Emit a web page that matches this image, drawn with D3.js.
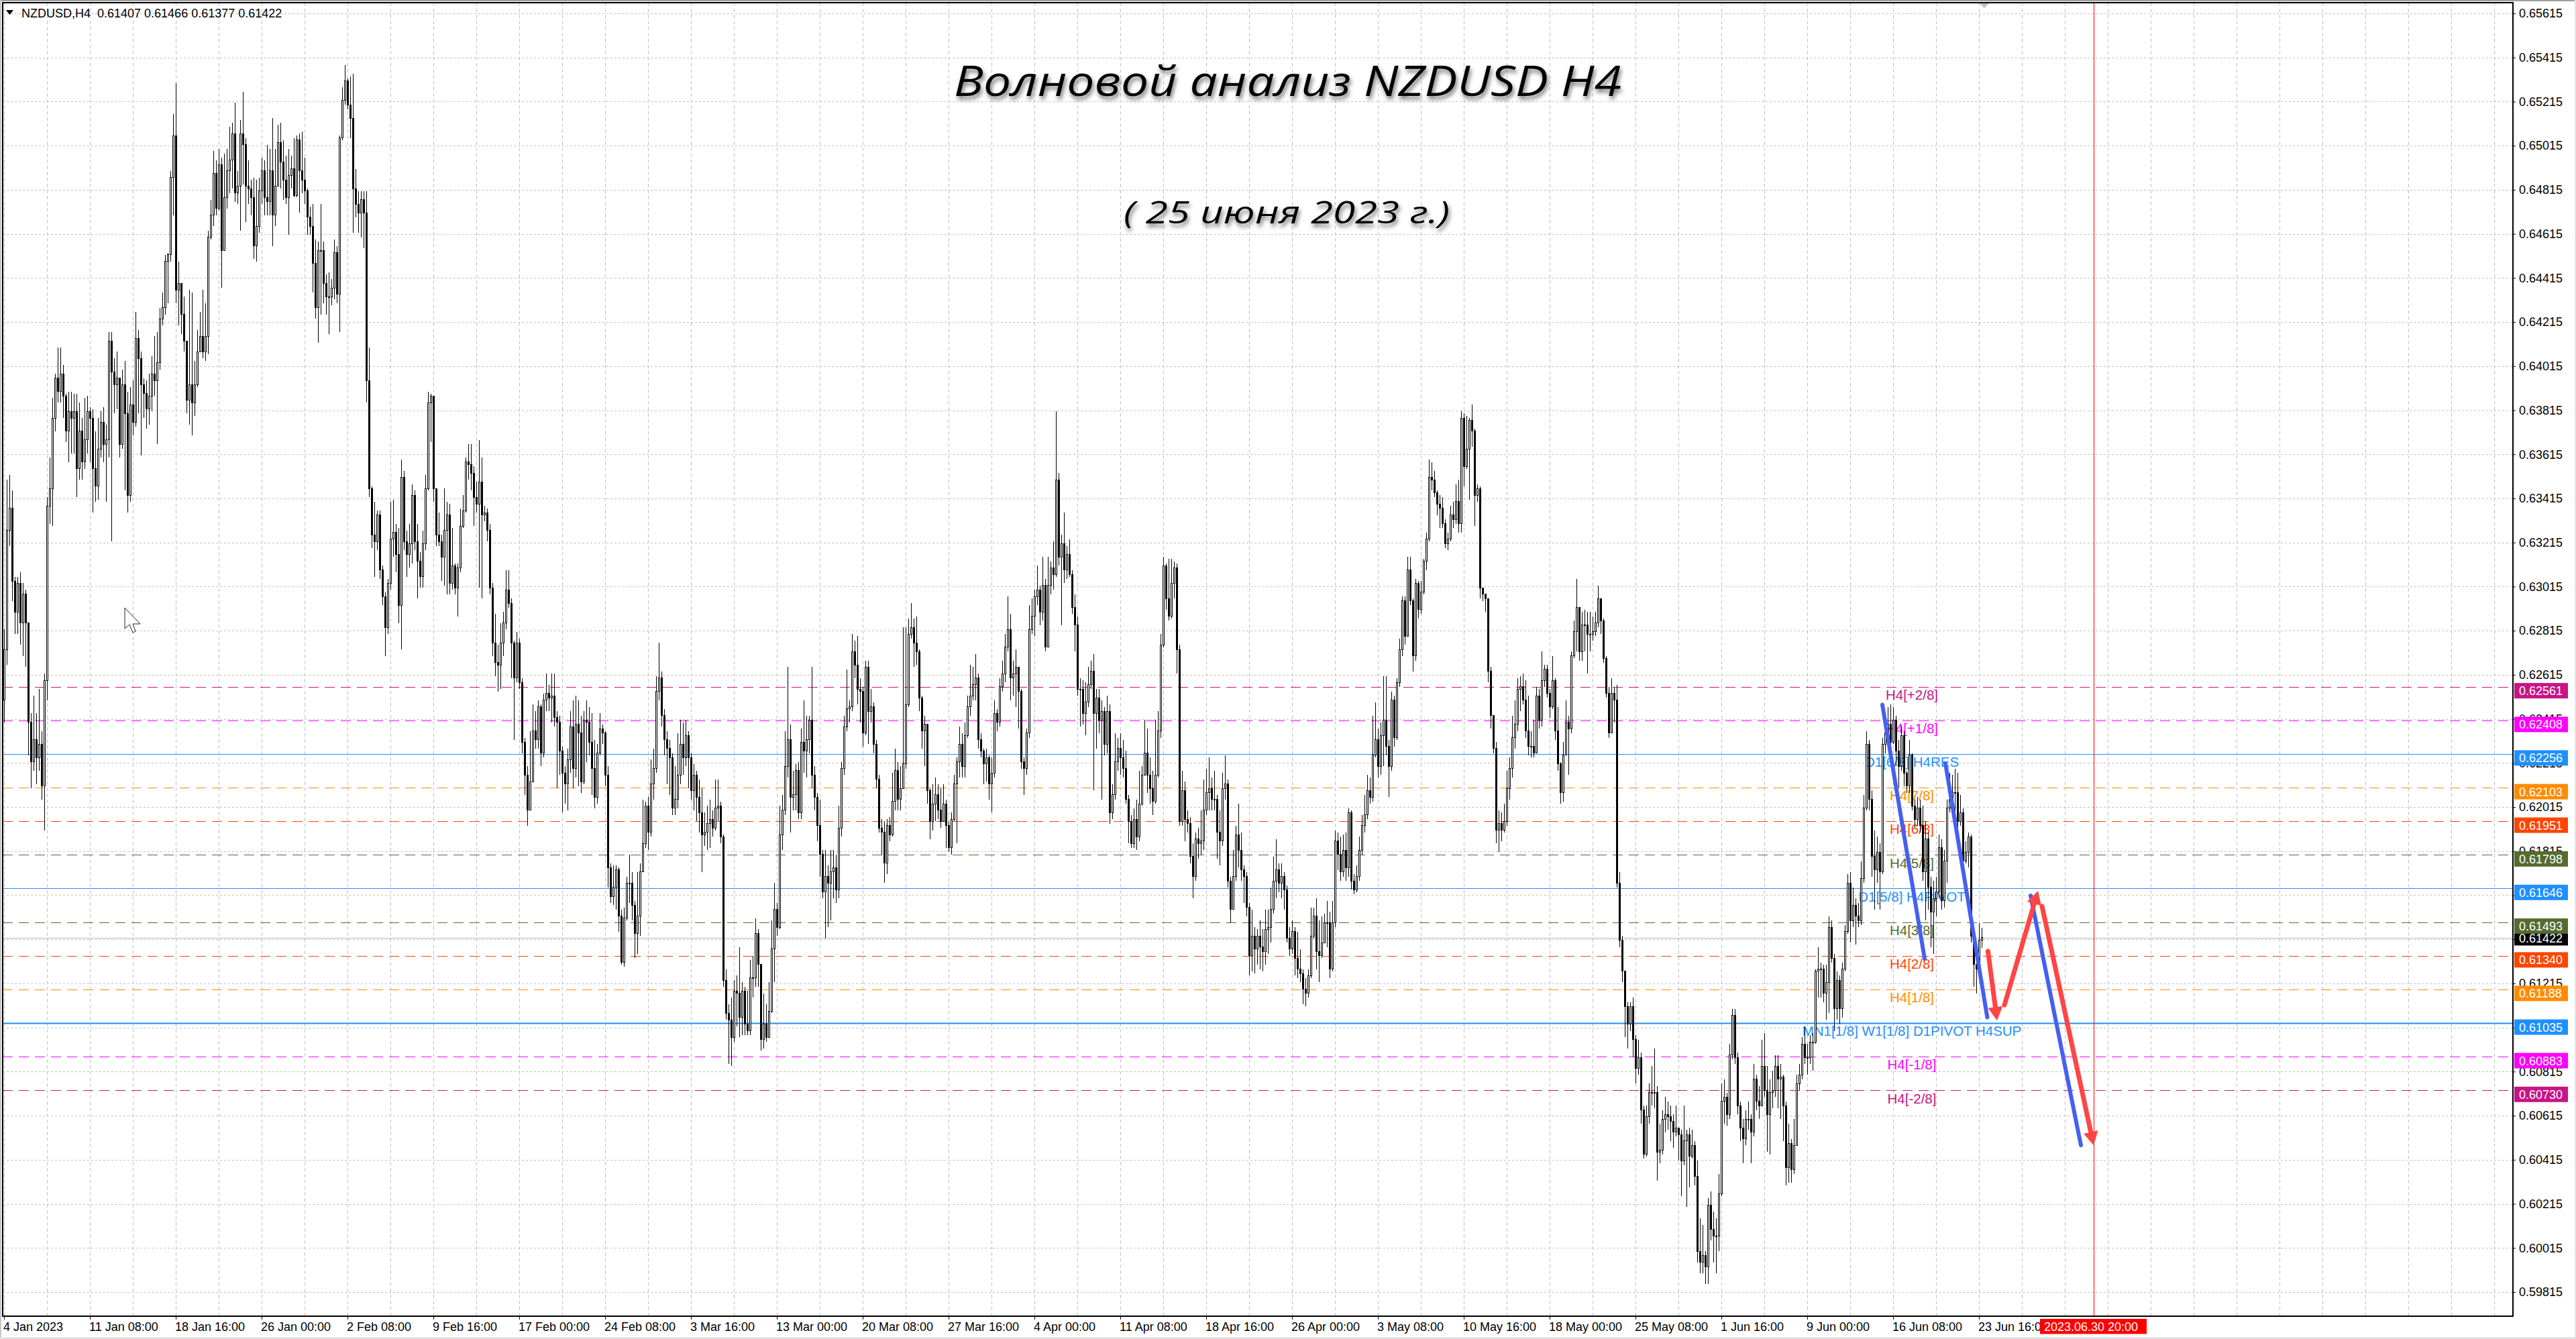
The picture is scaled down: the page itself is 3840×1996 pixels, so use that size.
<!DOCTYPE html>
<html lang="ru">
<head>
<meta charset="UTF-8">
<title>NZDUSD H4</title>
<script src="https://d3js.org/d3.v7.min.js"></script>
<style>
    html, body { margin: 0; padding: 0; background: #fff; }
    svg { display: block; font-family: "Liberation Sans", Arial, sans-serif; }
</style>
</head>
<body>
<div id="chart"></div>
<script>
// H4 bars, in pips (0.0001). Open of a bar = close of the bar before it.
const firstOpen = 6250;
const closePips = [
6273,6327,6337,6304,6290,6303,6285,6298,6285,6240,
6222,6232,6224,6230,6211,6259,6338,6346,6378,6396,
6390,6398,6388,6372,6381,6378,6381,6355,6372,6358,
6368,6381,6378,6355,6347,6364,6376,6366,6368,6413,
6399,6393,6396,6366,6393,6380,6343,6384,6376,6414,
6405,6393,6389,6382,6388,6398,6395,6403,6423,6428,
6449,6452,6487,6506,6436,6439,6425,6413,6386,6393,
6385,6393,6408,6415,6408,6415,6460,6470,6489,6473,
6493,6454,6478,6490,6495,6507,6480,6483,6507,6502,
6483,6482,6478,6456,6465,6481,6490,6478,6476,6490,
6470,6483,6503,6494,6486,6478,6488,6491,6479,6504,
6490,6486,6481,6469,6465,6448,6428,6454,6454,6439,
6433,6433,6437,6453,6434,6505,6522,6531,6520,6514,
6482,6475,6471,6477,6471,6395,6346,6325,6322,6334,
6309,6297,6283,6303,6323,6326,6316,6293,6351,6322,
6316,6321,6343,6322,6313,6306,6321,6346,6385,6388,
6346,6325,6322,6315,6327,6334,6303,6311,6301,6310,
6329,6336,6358,6357,6353,6342,6339,6349,6334,6335,
6327,6301,6276,6267,6266,6276,6285,6300,6294,6276,
6260,6276,6258,6231,6216,6200,6213,6236,6232,6247,
6226,6250,6253,6251,6252,6242,6240,6227,6217,6212,
6223,6238,6219,6239,6235,6213,6241,6240,6231,6219,
6206,6226,6237,6235,6216,6174,6161,6165,6173,6152,
6131,6151,6167,6167,6157,6144,6152,6172,6185,6202,
6190,6212,6219,6254,6260,6243,6232,6228,6224,6201,
6205,6216,6230,6224,6234,6224,6209,6216,6206,6199,
6189,6190,6194,6196,6192,6201,6202,6188,6123,6108,
6105,6097,6118,6117,6106,6118,6103,6100,6124,6124,
6144,6130,6096,6103,6097,6109,6137,6155,6147,6189,
6200,6220,6232,6206,6207,6218,6199,6231,6227,6232,
6241,6216,6206,6193,6180,6163,6170,6167,6172,6174,
6164,6192,6219,6238,6246,6247,6272,6266,6255,6254,
6235,6265,6245,6247,6230,6214,6192,6190,6176,6193,
6189,6204,6218,6205,6210,6221,6248,6280,6283,6276,
6272,6251,6236,6239,6209,6195,6203,6207,6200,6195,
6203,6193,6183,6196,6212,6222,6230,6220,6234,6247,
6252,6257,6260,6232,6227,6221,6224,6212,6217,6244,
6240,6256,6262,6274,6282,6260,6262,6265,6254,6222,
6219,6235,6282,6288,6297,6300,6290,6302,6274,6302,
6310,6307,6350,6315,6321,6309,6316,6307,6292,6284,
6255,6255,6244,6249,6257,6263,6244,6251,6241,6245,
6230,6245,6199,6207,6222,6228,6224,6219,6205,6195,
6185,6196,6188,6203,6216,6226,6216,6210,6204,6216,
6236,6275,6311,6296,6288,6303,6310,6273,6195,6209,
6196,6194,6179,6170,6187,6185,6186,6200,6208,6210,
6205,6205,6190,6186,6210,6212,6168,6155,6170,6189,
6182,6173,6170,6156,6134,6143,6137,6143,6138,6136,
6146,6147,6155,6168,6173,6167,6170,6164,6142,6137,
6145,6133,6128,6126,6119,6117,6125,6143,6152,6136,
6134,6140,6149,6149,6128,6149,6186,6180,6172,6182,
6174,6199,6168,6164,6170,6182,6193,6198,6209,6206,
6225,6232,6220,6234,6241,6229,6220,6250,6233,6258,
6273,6295,6279,6309,6295,6270,6303,6291,6299,6313,
6323,6351,6350,6344,6339,6337,6330,6321,6323,6334,
6332,6340,6330,6378,6356,6364,6377,6372,6343,6346,
6301,6298,6296,6263,6243,6228,6191,6194,6191,6195,
6210,6219,6233,6239,6255,6256,6250,6236,6229,6229,
6226,6252,6241,6259,6264,6253,6247,6259,6236,6221,
6208,6225,6240,6237,6270,6281,6292,6272,6284,6284,
6280,6280,6281,6285,6296,6286,6269,6253,6235,6253,
6250,6167,6141,6127,6111,6103,6111,6096,6083,6088,
6064,6044,6061,6072,6072,6072,6045,6046,6060,6062,
6061,6059,6054,6056,6053,6041,6050,6053,6043,6048,
6034,6000,5995,5998,5993,6021,6010,6007,6007,6026,
6068,6070,6062,6089,6107,6088,6066,6056,6051,6060,
6060,6054,6078,6068,6066,6084,6073,6062,6072,6073,
6084,6078,6079,6066,6038,6049,6037,6048,6076,6080,
6094,6088,6088,6095,6095,6127,6128,6128,6117,6122,
6147,6133,6110,6123,6110,6128,6145,6167,6150,6157,
6152,6150,6169,6201,6230,6205,6179,6173,6181,6172,
6230,6235,6239,6231,6241,6227,6220,6234,6217,6211,
6225,6202,6196,6201,6193,6172,6187,6165,6154,6160,
6163,6183,6159,6177,6201,6205,6208,6208,6195,6199,
6177,6181,6188,6143,6130,6128,6141,6142.2
];
const highPips = [
6282,6350,6352,6345,6306,6306,6308,6303,6300,6285,
6244,6252,6244,6255,6236,6262,6342,6360,6387,6398,
6410,6410,6402,6389,6390,6390,6389,6389,6385,6378,
6387,6388,6383,6382,6372,6378,6381,6383,6375,6417,
6417,6405,6408,6395,6400,6404,6390,6392,6395,6426,
6418,6408,6396,6395,6398,6406,6415,6417,6428,6435,
6452,6453,6490,6516,6530,6449,6433,6433,6413,6436,
6435,6404,6418,6426,6436,6430,6463,6477,6499,6495,
6500,6496,6498,6500,6510,6512,6521,6490,6513,6526,
6505,6495,6486,6487,6486,6487,6496,6495,6502,6500,
6514,6500,6511,6512,6504,6497,6500,6497,6505,6506,
6507,6508,6496,6482,6474,6475,6459,6458,6475,6458,
6443,6444,6441,6459,6456,6506,6528,6538,6532,6533,
6534,6491,6481,6481,6481,6481,6410,6347,6340,6336,
6336,6311,6299,6305,6340,6341,6330,6328,6359,6354,
6327,6330,6348,6345,6330,6317,6327,6352,6390,6389,
6388,6343,6335,6325,6346,6340,6339,6328,6312,6312,
6337,6343,6360,6366,6366,6356,6349,6368,6360,6338,
6337,6330,6303,6289,6275,6285,6290,6309,6309,6296,
6277,6281,6278,6260,6233,6220,6236,6248,6245,6250,
6248,6253,6262,6257,6262,6262,6245,6243,6229,6220,
6228,6245,6250,6252,6250,6243,6245,6250,6247,6244,
6232,6230,6244,6239,6236,6220,6176,6175,6175,6174,
6155,6156,6170,6180,6172,6159,6172,6176,6205,6204,
6206,6223,6228,6261,6276,6263,6246,6236,6232,6226,
6220,6235,6241,6240,6241,6236,6226,6221,6218,6214,
6210,6199,6202,6205,6200,6214,6214,6204,6189,6128,
6112,6115,6123,6125,6138,6122,6120,6118,6132,6134,
6151,6146,6130,6117,6112,6122,6150,6167,6158,6202,
6207,6236,6265,6239,6218,6221,6222,6237,6250,6243,
6243,6265,6220,6208,6205,6182,6182,6175,6182,6182,
6180,6202,6222,6243,6264,6250,6280,6277,6279,6260,
6256,6268,6268,6255,6249,6232,6216,6196,6195,6196,
6197,6217,6228,6222,6220,6283,6283,6287,6294,6287,
6288,6273,6252,6243,6228,6210,6212,6215,6212,6210,
6212,6205,6195,6199,6216,6224,6238,6235,6240,6252,
6266,6265,6271,6262,6235,6228,6228,6225,6224,6250,
6246,6260,6268,6280,6297,6289,6268,6273,6265,6255,
6224,6237,6293,6296,6300,6311,6302,6315,6305,6315,
6313,6322,6381,6353,6325,6335,6320,6323,6309,6298,
6288,6260,6259,6258,6265,6268,6271,6255,6255,6250,
6247,6252,6248,6212,6235,6233,6235,6232,6227,6207,
6198,6201,6205,6218,6220,6241,6237,6224,6218,6241,
6245,6280,6315,6312,6314,6314,6313,6312,6275,6218,
6213,6200,6197,6185,6190,6192,6200,6214,6219,6224,
6215,6218,6207,6200,6217,6225,6214,6170,6182,6193,
6203,6190,6175,6172,6158,6155,6147,6146,6150,6146,
6155,6155,6165,6179,6187,6176,6176,6172,6166,6147,
6150,6147,6145,6137,6128,6124,6128,6156,6156,6160,
6150,6152,6153,6159,6154,6159,6191,6190,6188,6189,
6190,6201,6200,6171,6175,6188,6198,6207,6216,6215,
6243,6249,6237,6240,6261,6261,6232,6254,6252,6260,
6278,6297,6297,6315,6315,6296,6305,6304,6304,6314,
6326,6359,6358,6354,6345,6343,6342,6332,6326,6338,
6340,6348,6350,6381,6380,6379,6378,6384,6373,6348,
6347,6301,6298,6296,6265,6243,6231,6200,6199,6203,
6218,6224,6243,6250,6260,6261,6262,6259,6252,6236,
6241,6256,6255,6272,6266,6266,6255,6270,6260,6247,
6222,6231,6250,6243,6272,6286,6305,6292,6290,6291,
6290,6290,6288,6290,6302,6296,6287,6270,6256,6260,
6256,6257,6172,6143,6127,6113,6113,6115,6098,6096,
6090,6066,6066,6076,6084,6092,6075,6058,6064,6070,
6068,6066,6062,6066,6056,6055,6066,6055,6056,6055,
6050,6041,6015,6012,6000,6024,6027,6018,6015,6035,
6076,6078,6072,6094,6110,6110,6090,6068,6060,6064,
6068,6062,6085,6080,6075,6096,6099,6084,6078,6082,
6089,6089,6085,6080,6068,6058,6051,6060,6080,6085,
6097,6102,6094,6098,6099,6128,6138,6131,6130,6130,
6152,6150,6135,6127,6125,6131,6148,6171,6172,6165,
6160,6158,6177,6207,6236,6232,6209,6191,6188,6185,
6233,6240,6247,6248,6247,6243,6232,6238,6236,6218,
6232,6226,6205,6206,6205,6202,6195,6190,6170,6168,
6170,6189,6187,6182,6205,6217,6216,6219,6217,6207,
6201,6186,6190,6189,6145,6135,6149,6146.6
];
const lowPips = [
6240,6266,6320,6295,6280,6280,6275,6270,6265,6225,
6210,6218,6212,6218,6205,6191,6250,6330,6329,6372,
6385,6385,6378,6367,6358,6362,6362,6342,6350,6350,
6355,6362,6358,6335,6340,6341,6360,6358,6340,6360,
6322,6380,6382,6360,6364,6345,6335,6340,6370,6374,
6380,6361,6378,6373,6375,6381,6388,6366,6400,6420,
6425,6430,6449,6470,6430,6420,6416,6408,6380,6375,
6370,6379,6392,6408,6405,6404,6407,6459,6465,6470,
6472,6437,6454,6473,6480,6482,6476,6475,6463,6484,
6467,6475,6470,6450,6449,6462,6475,6470,6470,6470,
6456,6465,6483,6482,6477,6475,6461,6482,6478,6478,
6471,6480,6475,6461,6461,6435,6423,6412,6425,6430,
6425,6416,6429,6432,6430,6417,6504,6520,6518,6505,
6462,6469,6462,6460,6455,6385,6342,6319,6306,6318,
6305,6293,6270,6280,6300,6315,6308,6285,6273,6318,
6306,6310,6312,6318,6296,6301,6301,6318,6345,6367,
6340,6320,6320,6304,6302,6298,6298,6300,6298,6288,
6308,6328,6335,6350,6345,6329,6335,6301,6296,6331,
6322,6298,6270,6261,6254,6255,6270,6282,6292,6260,
6232,6258,6255,6226,6207,6193,6205,6213,6228,6228,
6220,6224,6245,6245,6240,6238,6210,6216,6199,6203,
6200,6217,6210,6215,6211,6208,6212,6222,6225,6207,
6201,6203,6225,6230,6211,6165,6158,6157,6155,6145,
6130,6129,6150,6158,6150,6133,6135,6143,6172,6183,
6182,6188,6205,6217,6250,6238,6225,6212,6207,6198,
6198,6201,6212,6216,6220,6210,6205,6200,6195,6190,
6172,6184,6182,6183,6188,6191,6195,6185,6120,6105,
6085,6084,6095,6102,6097,6098,6098,6098,6098,6115,
6120,6120,6091,6092,6095,6097,6108,6122,6143,6146,
6182,6198,6215,6190,6200,6200,6196,6196,6217,6215,
6226,6210,6200,6186,6170,6160,6142,6147,6150,6160,
6158,6160,6188,6216,6236,6240,6245,6260,6248,6240,
6229,6234,6230,6240,6226,6210,6190,6180,6167,6171,
6186,6188,6200,6200,6200,6214,6219,6247,6278,6265,
6266,6245,6228,6220,6203,6187,6191,6195,6196,6192,
6195,6183,6181,6180,6195,6185,6215,6215,6215,6233,
6243,6250,6250,6228,6224,6212,6213,6205,6199,6215,
6236,6238,6254,6258,6272,6250,6252,6247,6237,6219,
6207,6216,6233,6280,6279,6293,6284,6286,6272,6275,
6298,6300,6306,6311,6284,6303,6305,6306,6289,6272,
6252,6238,6239,6234,6247,6255,6209,6228,6235,6205,
6225,6226,6194,6196,6205,6218,6216,6215,6203,6185,
6183,6183,6182,6186,6202,6216,6208,6203,6198,6203,
6215,6233,6274,6291,6286,6287,6296,6262,6193,6193,
6186,6190,6176,6160,6168,6178,6180,6182,6198,6200,
6200,6200,6178,6175,6184,6205,6165,6149,6155,6168,
6174,6168,6158,6152,6125,6127,6126,6130,6128,6127,
6130,6135,6140,6153,6160,6163,6160,6155,6140,6134,
6135,6125,6124,6122,6112,6111,6115,6124,6142,6128,
6122,6133,6140,6138,6124,6127,6147,6173,6168,6170,
6168,6170,6164,6162,6163,6168,6180,6190,6196,6203,
6204,6224,6215,6216,6220,6225,6206,6218,6229,6232,
6256,6270,6275,6279,6293,6263,6268,6287,6289,6298,
6309,6322,6345,6342,6334,6328,6328,6319,6318,6322,
6328,6330,6326,6326,6347,6355,6341,6365,6329,6340,
6296,6295,6290,6258,6237,6226,6185,6181,6186,6190,
6193,6205,6215,6228,6236,6245,6248,6233,6225,6224,
6224,6226,6237,6238,6256,6251,6242,6246,6232,6218,
6203,6204,6225,6216,6235,6269,6272,6268,6268,6272,
6262,6272,6277,6279,6283,6280,6267,6251,6233,6235,
6240,6165,6138,6122,6097,6092,6100,6088,6076,6080,
6058,6042,6043,6058,6066,6065,6032,6040,6044,6054,
6055,6050,6047,6052,6041,6025,6039,6020,6029,6042,
6030,5995,5990,5990,5985,5985,6005,5995,5990,6000,
6025,6058,6057,6060,6087,6085,6062,6050,6040,6048,
6055,6040,6052,6064,6060,6066,6070,6045,6044,6065,
6070,6065,6060,6050,6030,6031,6031,6035,6048,6073,
6078,6085,6080,6085,6082,6094,6115,6115,6113,6105,
6108,6131,6100,6105,6103,6106,6127,6144,6140,6147,
6139,6147,6148,6167,6200,6200,6170,6155,6167,6155,
6171,6226,6228,6226,6230,6220,6210,6218,6211,6208,
6208,6200,6192,6193,6190,6168,6150,6155,6138,6135,
6152,6160,6155,6156,6167,6199,6197,6197,6190,6193,
6170,6176,6174,6140,6120,6117,6130,6137.7
];

// price scale labels
const priceTicks = [0.65615,0.65415,0.65215,0.65015,0.64815,0.64615,0.64415,0.64215,0.64015,0.63815,
    0.63615,0.63415,0.63215,0.63015,0.62815,0.62615,0.62415,0.62215,0.62015,0.61815,0.61615,0.61415,
    0.61215,0.61015,0.60815,0.60615,0.60415,0.60215,0.60015,0.59815];

// time scale labels, one every 32 bars
const timeLabels = ["4 Jan 2023","11 Jan 08:00","18 Jan 16:00","26 Jan 00:00","2 Feb 08:00","9 Feb 16:00",
    "17 Feb 00:00","24 Feb 08:00","3 Mar 16:00","13 Mar 00:00","20 Mar 08:00","27 Mar 16:00","4 Apr 00:00",
    "11 Apr 08:00","18 Apr 16:00","26 Apr 00:00","3 May 08:00","10 May 16:00","18 May 00:00","25 May 08:00",
    "1 Jun 16:00","9 Jun 00:00","16 Jun 08:00","23 Jun 16:00"];

// Murrey levels
const levelPrices = [0.62561,0.62408,0.62256,0.62103,0.61951,0.61798,0.61646,0.61493,0.61340,0.61188,0.61035,0.60883,0.60730];
const levelNames = ["H4[+2/8]","H4[+1/8]","D1[6/8] H4RES","H4[7/8]","H4[6/8]","H4[5/8]","D1[5/8] H4PIVOT",
    "H4[3/8]","H4[2/8]","H4[1/8]","MN1[1/8] W1[1/8] D1PIVOT H4SUP","H4[-1/8]","H4[-2/8]"];
const levelColors = ["#c71585","#ff00ff","#1e90ff","#ff8c00","#ff4500","#556b2f","#1e90ff",
    "#556b2f","#ff4500","#ff8c00","#1e90ff","#ff00ff","#c71585"];

const lastPrice = 0.61422;
const forecastBar = 778.75;
const forecastLabel = "2023.06.30 20:00";

// hand drawn wave forecast: [bar, pips]
const blueLines = [
    [[700, 6247.9], [715.75, 6132.7]],
    [[723.5, 6221.3], [739.1, 6106.1]],
    [[755.25, 6161.3], [774, 6048.1]]
];
const redArrows = [
    [[739.35, 6136.1], [742.75, 6104.7]],
    [[745.5, 6111.7], [758, 6163.5]],
    [[759.5, 6156.5], [778.75, 6048.1]]
];

const width = 3840, height = 1996;
const plotLeft = 4, plotRight = 3746, plotTop = 4, plotBottom = 1962;

const svg = d3.select("#chart").append("svg")
    .attr("width", width)
    .attr("height", height)
    .attr("viewBox", "0 0 " + width + " " + height);

const defs = svg.append("defs");
defs.append("filter").attr("id", "shadow")
    .attr("x", "-5%").attr("y", "-20%").attr("width", "110%").attr("height", "150%")
    .append("feDropShadow")
    .attr("dx", 2).attr("dy", 5).attr("stdDeviation", 3)
    .attr("flood-color", "#444").attr("flood-opacity", 0.75);
defs.append("clipPath").attr("id", "plot").append("rect")
    .attr("x", plotLeft).attr("y", plotTop).attr("width", plotRight - plotLeft).attr("height", plotBottom - plotTop);

// window edges
svg.append("rect").attr("width", width).attr("height", 2).attr("fill", "#a0a0a0");
svg.append("rect").attr("x", 0).attr("width", 2).attr("height", height).attr("fill", "#c8c8c8");
svg.append("rect").attr("x", width - 2).attr("width", 2).attr("height", height).attr("fill", "#e4e4e4");
svg.append("rect").attr("y", height - 3).attr("width", width).attr("height", 3).attr("fill", "#e4e4e4");

const x = d3.scaleLinear().domain([0, 16]).range([6, 70]);
const y = d3.scaleLinear().domain([0.59815, 0.65615]).range([1926, 20]);
const yPips = d => y(d / 10000);
const px = d => Math.round(x(d)) + 0.5;

const plot = svg.append("g").attr("clip-path", "url(#plot)");

// grid
const gridBars = d3.range(0, 59).map(k => k * 16);
plot.append("g").selectAll("line").data(gridBars).enter().append("line")
    .attr("x1", d => px(d)).attr("x2", d => px(d))
    .attr("y1", plotTop).attr("y2", plotBottom)
    .attr("stroke", "#c0c0c0").attr("stroke-dasharray", "5,4");
plot.append("g").selectAll("line").data(priceTicks).enter().append("line")
    .attr("x1", plotLeft).attr("x2", plotRight)
    .attr("y1", d => Math.round(y(d)) + 0.5).attr("y2", d => Math.round(y(d)) + 0.5)
    .attr("stroke", "#c0c0c0").attr("stroke-dasharray", "3,3");

// current price line
plot.append("line")
    .attr("x1", plotLeft).attr("x2", plotRight)
    .attr("y1", Math.round(y(lastPrice)) + 0.5).attr("y2", Math.round(y(lastPrice)) + 0.5)
    .attr("stroke", "#c0c0c0");

// levels
const isPivot = i => levelColors[i] === "#1e90ff";
plot.append("g").selectAll("line").data(levelPrices).enter().append("line")
    .attr("x1", plotLeft).attr("x2", (d, i) => isPivot(i) ? plotRight : plotRight - 3)
    .attr("y1", d => Math.round(y(d)) + 0.5).attr("y2", d => Math.round(y(d)) + 0.5)
    .attr("stroke", (d, i) => levelColors[i])
    .attr("stroke-width", d => d === 0.61035 ? 2 : 1)
    .attr("stroke-dasharray", (d, i) => isPivot(i) ? null : "15,9");

plot.append("g").selectAll("text").data(levelPrices).enter().append("text")
    .attr("x", 2850)
    .attr("y", d => y(d) + 12)
    .attr("dy", "0.36em")
    .attr("text-anchor", "middle")
    .attr("font-size", 20.5)
    .attr("fill", (d, i) => levelColors[i])
    .text((d, i) => levelNames[i]);

// candles
const bars = closePips.map((c, i) => ({
    i: i,
    open: i ? closePips[i - 1] : firstOpen,
    close: c,
    high: highPips[i],
    low: lowPips[i]
}));
console.log("bars", bars.length, highPips.length, lowPips.length);

const candles = plot.append("g").attr("shape-rendering", "crispEdges");
candles.selectAll("line").data(bars).enter().append("line")
    .attr("x1", d => px(d.i)).attr("x2", d => px(d.i))
    .attr("y1", d => yPips(Math.max(d.high, d.open, d.close)))
    .attr("y2", d => yPips(Math.min(d.low, d.open, d.close)))
    .attr("stroke", "#000");
candles.selectAll("rect").data(bars).enter().append("rect")
    .attr("x", d => px(d.i) - 1)
    .attr("width", 2)
    .attr("y", d => yPips(Math.max(d.open, d.close)))
    .attr("height", d => Math.max(1, Math.abs(yPips(d.open) - yPips(d.close))))
    .attr("fill", d => d.close >= d.open ? "#fff" : "#000")
    .attr("stroke", "#000");

// forecast time line
plot.append("line")
    .attr("x1", px(forecastBar)).attr("x2", px(forecastBar))
    .attr("y1", plotTop).attr("y2", plotBottom)
    .attr("stroke", "#ff0000");

// mouse pointer left on the screenshot
plot.append("path")
    .attr("d", "M186,906 L186,937 L193,931 L198,943 L202,941 L198,930 L209,930 Z")
    .attr("fill", "#fff").attr("stroke", "#222").attr("stroke-width", 1);

// last bar shift mark
svg.append("path")
    .attr("d", "M2950,4 L2966,4 L2958,12 Z")
    .attr("fill", "#c0c0c0");

// blue wave lines
plot.append("g").selectAll("line").data(blueLines).enter().append("line")
    .attr("x1", d => x(d[0][0])).attr("y1", d => yPips(d[0][1]))
    .attr("x2", d => x(d[1][0])).attr("y2", d => yPips(d[1][1]))
    .attr("stroke", "#4560f0")
    .attr("stroke-width", 6)
    .attr("stroke-linecap", "round");

// red arrows
const arrowLength = 20, arrowHalf = 11;
const arrows = plot.append("g").selectAll("g").data(redArrows).enter().append("g");
arrows.each(function(d) {
    const x0 = x(d[0][0]), y0 = yPips(d[0][1]), x1 = x(d[1][0]), y1 = yPips(d[1][1]);
    const len = Math.hypot(x1 - x0, y1 - y0);
    const ux = (x1 - x0) / len, uy = (y1 - y0) / len;
    const bx = x1 - ux * arrowLength, by = y1 - uy * arrowLength;
    const g = d3.select(this);
    g.append("line")
        .attr("x1", x0).attr("y1", y0).attr("x2", bx).attr("y2", by)
        .attr("stroke", "#ff4545").attr("stroke-width", 7).attr("stroke-linecap", "round");
    g.append("path")
        .attr("d", "M" + x1 + "," + y1 +
            "L" + (bx - uy * arrowHalf) + "," + (by + ux * arrowHalf) +
            "L" + (bx + uy * arrowHalf) + "," + (by - ux * arrowHalf) + "Z")
        .attr("fill", "#ff4545");
});

// title
const titles = plot.append("g").attr("filter", "url(#shadow)")
    .attr("font-family", '"Open Sans", "DejaVu Sans", sans-serif')
    .attr("font-style", "italic")
    .attr("fill", "#000");
titles.append("text")
    .attr("x", 1422).attr("y", 143)
    .attr("font-size", 62)
    .attr("textLength", 995).attr("lengthAdjust", "spacingAndGlyphs")
    .text("Волновой анализ NZDUSD H4");
titles.append("text")
    .attr("x", 1675).attr("y", 333)
    .attr("font-size", 46)
    .attr("textLength", 486).attr("lengthAdjust", "spacingAndGlyphs")
    .text("( 25 июня 2023 г.)");

// symbol header
svg.append("path").attr("d", "M9,15 L20,15 L14.5,22 Z").attr("fill", "#000");
svg.append("text")
    .attr("x", 32).attr("y", 20).attr("dy", "0.36em")
    .attr("font-size", 18)
    .attr("xml:space", "preserve")
    .style("white-space", "pre")
    .text("NZDUSD,H4  0.61407 0.61466 0.61377 0.61422");

// axes
const yAxis = d3.axisRight(y)
    .tickValues(priceTicks)
    .tickSize(4)
    .tickPadding(5)
    .tickFormat(d3.format(".5f"));
const yg = svg.append("g").attr("transform", "translate(" + plotRight + ",0)").call(yAxis);
yg.select(".domain").remove();
yg.selectAll("text").attr("font-size", 18).attr("font-family", '"Liberation Sans", Arial, sans-serif').attr("fill", "#000");

const xAxis = d3.axisBottom(x)
    .tickValues(timeLabels.map((d, i) => i * 32))
    .tickSize(5)
    .tickPadding(4)
    .tickFormat((d, i) => timeLabels[i]);
const xg = svg.append("g").attr("transform", "translate(0," + plotBottom + ")").call(xAxis);
xg.select(".domain").remove();
xg.selectAll("text")
    .attr("font-size", 18)
    .attr("font-family", '"Liberation Sans", Arial, sans-serif')
    .attr("fill", "#000")
    .attr("text-anchor", "start")
    .attr("x", -1.5);

// plot frame
svg.append("rect")
    .attr("x", plotLeft).attr("y", plotTop)
    .attr("width", plotRight - plotLeft).attr("height", plotBottom - plotTop)
    .attr("fill", "none").attr("stroke", "#000").attr("stroke-width", 2);

// level tags over the price scale
const tags = svg.append("g").selectAll("g").data(levelPrices).enter().append("g")
    .attr("transform", d => "translate(" + (plotRight + 2) + "," + y(d) + ")");
tags.append("rect")
    .attr("y", -5.5).attr("width", 80).attr("height", 23)
    .attr("fill", (d, i) => levelColors[i]);
tags.append("text")
    .attr("x", 7).attr("y", 6).attr("dy", "0.36em")
    .attr("font-size", 18).attr("fill", "#fff")
    .text(d => d.toFixed(5));

const lastTag = svg.append("g").attr("transform", "translate(" + (plotRight + 2) + "," + y(lastPrice) + ")");
lastTag.append("rect").attr("y", -6).attr("width", 80).attr("height", 17.5).attr("fill", "#000");
lastTag.append("text").attr("x", 7).attr("y", 1).attr("dy", "0.36em")
    .attr("font-size", 18).attr("fill", "#fff").text(lastPrice.toFixed(5));

// forecast time tag
svg.append("rect")
    .attr("x", 3041).attr("y", 1966).attr("width", 159).attr("height", 22.5)
    .attr("fill", "#ff0000");
svg.append("text")
    .attr("x", 3047).attr("y", 1977.5).attr("dy", "0.36em")
    .attr("font-size", 18).attr("fill", "#fff")
    .text(forecastLabel);
</script>
</body>
</html>
